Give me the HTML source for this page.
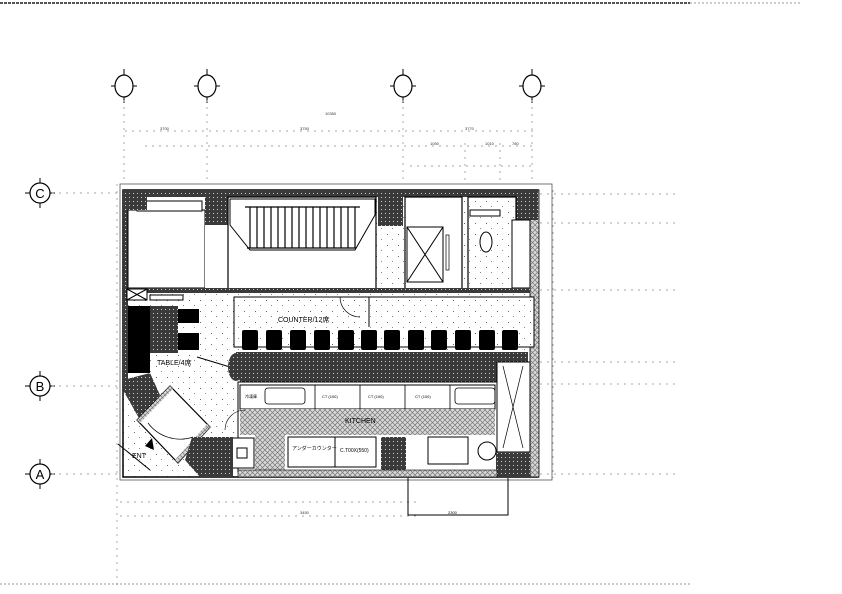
<!DOCTYPE html>
<html><head><meta charset="utf-8"><style>
html,body{margin:0;padding:0;background:#fff}
svg{display:block}
text{font-family:"Liberation Sans","Noto Sans CJK JP",sans-serif}
</style></head><body>
<svg width="842" height="594" viewBox="0 0 842 594" xmlns="http://www.w3.org/2000/svg">
<defs>
<pattern id="dk" width="4" height="4" patternUnits="userSpaceOnUse"><rect width="4" height="4" fill="#3a3a3a"/><rect x="1" y="1" width="1" height="1" fill="#ccc"/></pattern>
<pattern id="sp" width="11" height="11" patternUnits="userSpaceOnUse"><rect width="11" height="11" fill="#fff"/><rect x="2" y="3" width="1" height="1" fill="#666"/><rect x="7" y="8" width="1" height="1" fill="#888"/></pattern>
<pattern id="xh" width="5" height="5" patternUnits="userSpaceOnUse"><rect width="5" height="5" fill="#d8d8d8"/><path d="M0 0L5 5M5 0L0 5" stroke="#777" stroke-width="0.7"/></pattern>
</defs>
<line x1="0" y1="3" x2="690" y2="3" stroke="#555" stroke-width="2" stroke-dasharray="3 1"/>
<line x1="690" y1="3" x2="800" y2="3" stroke="#999" stroke-width="1" stroke-dasharray="2 2"/>
<line x1="0" y1="584" x2="690" y2="584" stroke="#999" stroke-width="1" stroke-dasharray="2 2"/>

<g fill="none" stroke="#000" stroke-width="1.2">
<ellipse cx="124" cy="86" rx="9" ry="11"/><ellipse cx="207" cy="86" rx="9" ry="11"/>
<ellipse cx="403" cy="86" rx="9" ry="11"/><ellipse cx="532" cy="86" rx="9" ry="11"/>
<circle cx="40" cy="193" r="10"/><circle cx="40" cy="386" r="10"/><circle cx="40" cy="474" r="10"/>
</g>
<g stroke="#000" stroke-width="1">
<path d="M124 69v6M124 97v6M111 86h4M133 86h4M207 69v6M207 97v6M194 86h4M216 86h4M403 69v6M403 97v6M390 86h4M412 86h4M532 69v6M532 97v6M519 86h4M541 86h4"/>
<path d="M40 178v5M40 203v5M25 193h5M50 193h5M40 371v5M40 396v5M25 386h5M50 386h5M40 459v5M40 484v5M25 474h5M50 474h5"/>
</g>
<text x="40" y="198" font-size="13" text-anchor="middle">C</text>
<text x="40" y="391" font-size="13" text-anchor="middle">B</text>
<text x="40" y="479" font-size="13" text-anchor="middle">A</text>

<g stroke="#888" stroke-width="0.7" stroke-dasharray="2 5" fill="none">
<path d="M124 100V184M207 100V184M403 100V184M532 100V184M465 180V140M500 180V140"/>
<path d="M125 131H535M145 146H535M410 166H535"/>
<path d="M52 193H120M52 386H120M52 474H120M117 184V590"/>
<path d="M540 194H680M540 223H680M540 290H680M540 362H680M540 384H680M540 474H680"/>
<path d="M120 502H420M120 516H420"/>
<path d="M553 190V478"/>
</g>
<g font-size="4" fill="#333">
<text x="325" y="115">10350</text><text x="160" y="130">3700</text><text x="300" y="130">3750</text><text x="465" y="130">3770</text>
<text x="430" y="145">1050</text><text x="485" y="145">1010</text><text x="512" y="145">780</text>
<text x="300" y="514">3450</text>
</g>

<rect x="120" y="184" width="432" height="296" fill="none" stroke="#555" stroke-width="0.8"/>
<rect x="123" y="190" width="415" height="287" fill="url(#sp)" stroke="#000" stroke-width="1.5"/>
<rect x="123" y="190" width="415" height="7" fill="url(#dk)"/>
<rect x="530" y="190" width="9" height="287" fill="url(#xh)" stroke="#000" stroke-width="0.8"/>
<polygon points="123,190 128,190 128,380 123,384" fill="url(#dk)"/>
<rect x="128" y="210" width="77" height="78" fill="#fff" stroke="#000"/>
<rect x="205" y="225" width="23" height="63" fill="#fff"/>
<rect x="137" y="201" width="65" height="10" fill="#fff" stroke="#000"/>
<rect x="123" y="190" width="24" height="20" fill="url(#dk)"/>
<rect x="205" y="190" width="23" height="35" fill="url(#dk)"/>
<rect x="378" y="190" width="25" height="36" fill="url(#dk)"/>
<rect x="510" y="190" width="28" height="30" fill="url(#dk)"/>
<rect x="228" y="197" width="148" height="92" fill="#fff" stroke="#000" stroke-width="1.2"/>
<polygon points="230,199 375,199 375,215 355,250 250,250 230,225" fill="#fff" stroke="#000"/>
<g stroke="#000" stroke-width="1.2">
<path d="M250 207V248M257 207V248M264 207V248M271 207V248M278 207V248M285 207V248M292 207V248M299 207V248M306 207V248M313 207V248M320 207V248M327 207V248M334 207V248M341 207V248M348 207V248M355 207V248"/>
<path d="M245 207H360M247 248H356"/>
</g>
<rect x="405" y="197" width="57" height="92" fill="#fff" stroke="#000" stroke-width="1.2"/>
<rect x="407" y="227" width="36" height="55" fill="#fff" stroke="#000"/>
<path d="M407 227L443 282M443 227L407 282" stroke="#000"/>
<rect x="446" y="235" width="3" height="35" fill="#fff" stroke="#000" stroke-width="0.7"/>
<rect x="468" y="197" width="48" height="92" fill="url(#sp)" stroke="#000" stroke-width="1.2"/>
<rect x="470" y="210" width="30" height="6" fill="#fff" stroke="#000"/>
<ellipse cx="486" cy="242" rx="6" ry="10" fill="#fff" stroke="#000"/>
<rect x="512" y="220" width="18" height="68" fill="#fff" stroke="#000"/>
<rect x="128" y="288" width="402" height="5" fill="url(#dk)"/>
<rect x="127" y="289" width="20" height="11" fill="#fff" stroke="#000"/>
<path d="M127 289L147 300M147 289L127 300" stroke="#000"/>
<rect x="150" y="295" width="33" height="5" fill="#fff" stroke="#000"/>
<rect x="234" y="297" width="300" height="50" fill="url(#sp)" stroke="#000"/>
<line x1="369" y1="297" x2="369" y2="327" stroke="#000"/>
<path d="M340 297a20 20 0 0 0 20 20" fill="none" stroke="#000" stroke-width="0.7"/>
<text x="278" y="322" font-size="7">COUNTER/12席</text>
<g fill="#000">
<rect x="242" y="330" width="16" height="20" rx="2"/><rect x="266" y="330" width="16" height="20" rx="2"/>
<rect x="290" y="330" width="16" height="20" rx="2"/><rect x="314" y="330" width="16" height="20" rx="2"/>
<rect x="338" y="330" width="16" height="20" rx="2"/><rect x="361" y="330" width="16" height="20" rx="2"/>
<rect x="384" y="330" width="16" height="20" rx="2"/><rect x="408" y="330" width="16" height="20" rx="2"/>
<rect x="431" y="330" width="16" height="20" rx="2"/><rect x="455" y="330" width="16" height="20" rx="2"/>
<rect x="479" y="330" width="16" height="20" rx="2"/><rect x="502" y="330" width="16" height="20" rx="2"/>
</g>
<path d="M236 362V352H528V362H497V382H240Z" fill="url(#dk)"/>
<rect x="497" y="362" width="33" height="90" fill="#fff" stroke="#000"/>
<path d="M503 366L523 448M523 366L503 448" stroke="#000" stroke-width="0.7"/>
<rect x="238" y="382" width="259" height="90" fill="#fff" stroke="#000"/>
<rect x="240" y="385" width="255" height="24" fill="#fff" stroke="#000"/>
<g stroke="#000" fill="none" stroke-width="0.8">
<rect x="265" y="388" width="40" height="16" rx="3"/><rect x="455" y="388" width="40" height="16" rx="3"/>
<path d="M315 385V409M360 385V409M405 385V409M450 385V409"/>
</g>
<g font-size="4"><text x="245" y="398">冷凍庫</text><text x="322" y="398">CT (100)</text><text x="368" y="398">CT (100)</text><text x="415" y="398">CT (100)</text></g>
<rect x="240" y="409" width="255" height="26" fill="url(#xh)"/>
<text x="345" y="423" font-size="7">KITCHEN</text>
<rect x="255" y="435" width="30" height="37" fill="url(#xh)"/>
<rect x="232" y="438" width="22" height="30" fill="#fff" stroke="#000"/>
<rect x="237" y="448" width="10" height="10" fill="#fff" stroke="#000"/>
<rect x="288" y="437" width="88" height="30" fill="#fff" stroke="#000"/>
<line x1="335" y1="437" x2="335" y2="467" stroke="#000"/>
<text x="292" y="450" font-size="5">アンダーカウンター</text><text x="340" y="452" font-size="5">C.T00X(550)</text>
<rect x="381" y="437" width="25" height="35" fill="url(#dk)"/>
<rect x="428" y="437" width="40" height="27" fill="#fff" stroke="#000"/>
<circle cx="487" cy="451" r="9" fill="#fff" stroke="#000"/>
<rect x="496" y="452" width="34" height="25" fill="url(#dk)"/>
<rect x="238" y="470" width="259" height="7" fill="url(#xh)" stroke="#000" stroke-width="0.6"/>
<rect x="128" y="306" width="22" height="67" fill="#000"/>
<rect x="150" y="306" width="28" height="47" fill="url(#dk)"/>
<rect x="178" y="309" width="21" height="14" fill="#000"/>
<rect x="178" y="333" width="21" height="17" fill="#000"/>
<text x="157" y="365" font-size="7">TABLE/4席</text>
<path d="M197 357L230 367" stroke="#000" fill="none"/>
<ellipse cx="236" cy="367" rx="8" ry="14" fill="url(#dk)"/>
<polygon points="123,380 150,373 160,395 140,420 123,390" fill="url(#dk)"/>
<polygon points="137,420 170,386 210,427 178,463" fill="#fff" stroke="#000" stroke-width="1.2"/>
<polygon points="137,420 170,386 173,389 140,423" fill="url(#xh)"/>
<polygon points="207,424 210,427 178,463 175,460" fill="url(#xh)"/>
<path d="M148 423a40 40 0 0 0 45 14" fill="none" stroke="#000" stroke-width="0.7"/>
<polygon points="192,437 233,437 233,477 200,477 185,460" fill="url(#dk)"/>
<path d="M118 444L150 470" stroke="#000" stroke-width="1" fill="none"/>
<polygon points="145,446 152,438 154,450" fill="#000"/>
<text x="132" y="458" font-size="7">ENT</text>
<path d="M225 430a20 20 0 0 1 20 -20" fill="none" stroke="#000" stroke-width="0.6"/>
<path d="M408 478V515H508V478" fill="none" stroke="#000" stroke-width="1"/>
<text x="448" y="514" font-size="4">2300</text>
</svg>
</body></html>
